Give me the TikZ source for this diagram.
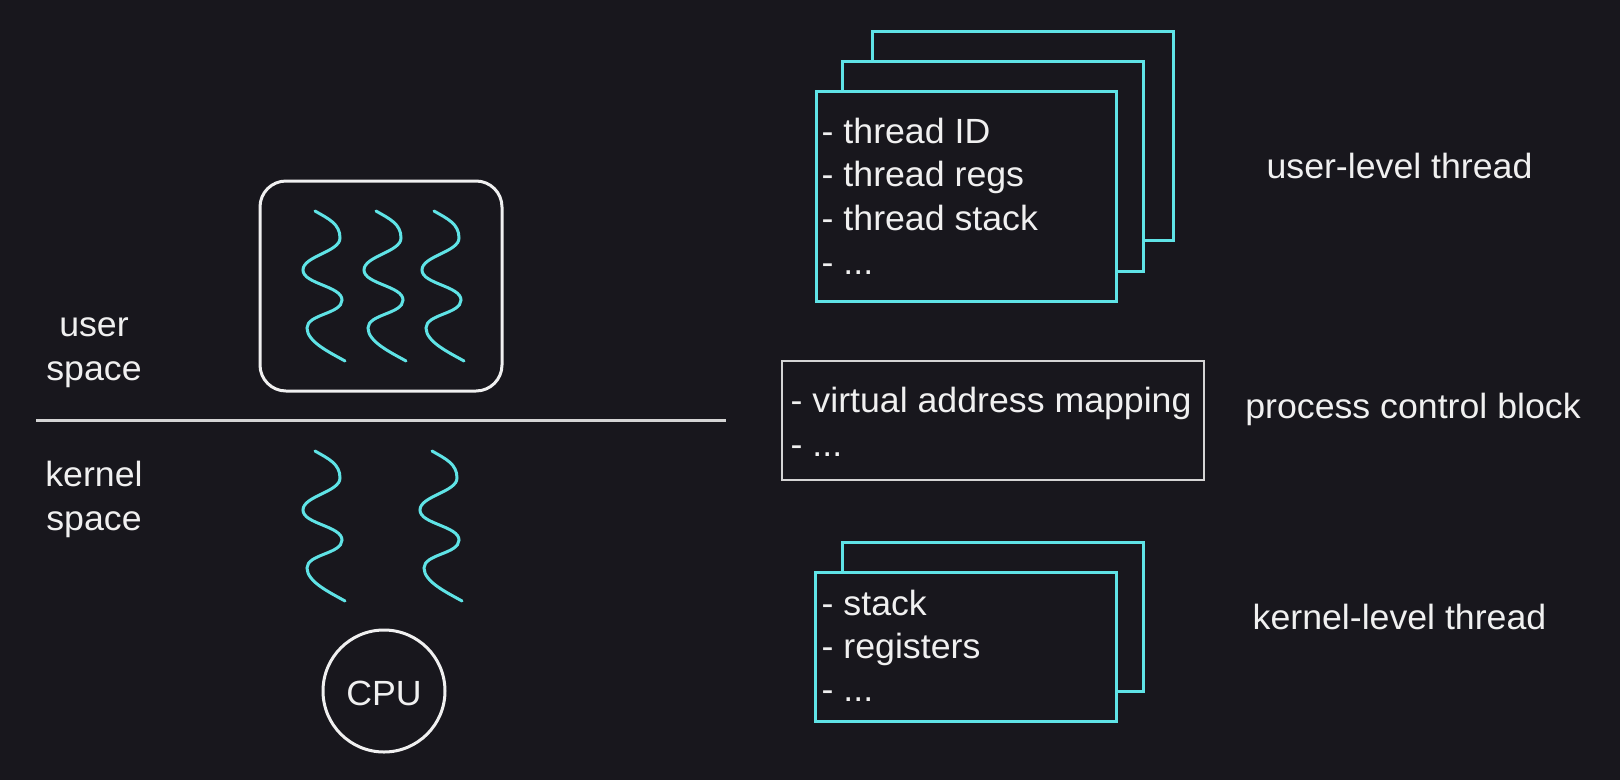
\documentclass[tikz,border=0pt]{standalone}
\usepackage{fontspec}
\setmainfont{Liberation Sans}[FakeStretch=1.02]
\definecolor{bg}{HTML}{18171D}
\definecolor{cy}{HTML}{5FE3E6}
\definecolor{fg}{HTML}{F0F0F0}
\definecolor{lgray}{HTML}{D4D4D4}
\tikzset{
  lbl/.style={text=fg, font=\fontsize{35}{44}\selectfont, inner sep=0pt},
  lline/.style={lbl, anchor=base west},
  cbox/.style={draw=cy, line width=3pt, fill=bg, rectangle, inner sep=0pt},
  gbox/.style={draw=lgray, line width=2.5pt, fill=bg, rectangle, inner sep=0pt},
  squig/.style={draw=cy, line width=3pt, line cap=round},
}
\newcommand\mysquig[2]{%
  \draw[squig] (#1,#2) .. controls +(14,8) and +(0,-14) .. ++(25,27)
    .. controls +(0,14) and +(0,-14) .. ++(-37,32)
    .. controls +(0,14) and +(0,-14) .. ++(39,30)
    .. controls +(0,14) and +(0,-14) .. ++(-35,28)
    .. controls +(0,14) and +(-14,-8) .. ++(38,33);}
\begin{document}
\begin{tikzpicture}[x=1pt,y=-1pt]
\useasboundingbox (0,0) rectangle (1620,780);
\fill[bg] (0,0) rectangle (1620,780);

% left side
\node[draw=fg, line width=3pt, rounded corners=26pt, minimum width=242pt, minimum height=210pt, inner sep=0pt] (proc) at (381,286) {};
\mysquig{315}{211}
\mysquig{376}{211}
\mysquig{434}{211}
\mysquig{315}{451}
\mysquig{432}{451}

\coordinate (sepL) at (36,420.5);
\coordinate (sepR) at (726,420.5);
\draw[lgray, line width=2.5pt] (sepL) -- (sepR);

\node[lbl, anchor=base] (us1) at (94,336) {user};
\node[lbl, anchor=base] (us2) at (94,380) {space};
\node[lbl, anchor=base] (ks1) at (94,486.5) {kernel};
\node[lbl, anchor=base] (ks2) at (94,530) {space};

\node[draw=fg, line width=3pt, circle, minimum size=122pt, inner sep=0pt] (cpu) at (384,691) {};
\node[lbl, anchor=base] (cput) at (384,705) {CPU};

% user-level thread boxes
\node[cbox, minimum width=301pt, minimum height=209pt] (ub3) at (1022.5,135.5) {};
\node[cbox, minimum width=301pt, minimum height=210pt] (ub2) at (992.5,166) {};
\node[cbox, minimum width=300pt, minimum height=210pt] (ub1) at (966,196) {};
\node[lline] (u1) at (821.5,143) {- thread ID};
\node[lline] (u2) at (821.5,186.7) {- thread regs};
\node[lline] (u3) at (821.5,230.4) {- thread stack};
\node[lline] (u4) at (821.5,274) {- ...};

% process control block
\node[gbox, minimum width=422pt, minimum height=119pt] (pcb) at (993,420.5) {};
\node[lline] (p1) at (790.5,412) {- virtual address mapping};
\node[lline] (p2) at (790.5,456) {- ...};

% kernel-level thread boxes
\node[cbox, minimum width=301pt, minimum height=149pt] (kb2) at (992.5,616.5) {};
\node[cbox, minimum width=301pt, minimum height=149pt] (kb1) at (965.5,646.5) {};
\node[lline] (k1) at (821.5,615) {- stack};
\node[lline] (k2) at (821.5,658) {- registers};
\node[lline] (k3) at (821.5,701) {- ...};

% right labels
\node[lbl, anchor=base] (ult) at (1399.5,178) {user-level thread};
\node[lbl, anchor=base] (pcbt) at (1413,418) {process control block};
\node[lbl, anchor=base] (klt) at (1399.5,629) {kernel-level thread};
\end{tikzpicture}
\end{document}
